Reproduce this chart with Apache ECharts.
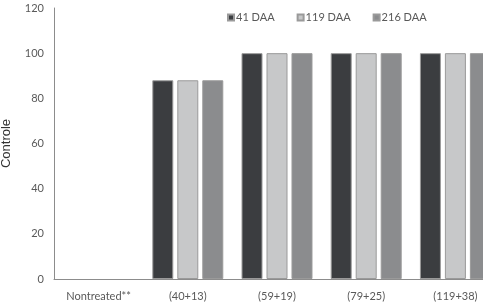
<!DOCTYPE html>
<html>
<head>
<meta charset="utf-8">
<script src="https://cdn.jsdelivr.net/npm/echarts@6/dist/echarts.min.js"></script>
<style>
  html, body { margin: 0; padding: 0; background: #fff; }
  #chart { width: 483px; height: 303px; }
</style>
</head>
<body>
<div id="chart"></div>
<script>
var categories = ['Nontreated**', '(40+13)', '(59+19)', '(79+25)', '(119+38)']
var seriesNames = ['41 DAA', '119 DAA', '216 DAA']
var daa41 = [0, 88, 100, 100, 100]
var daa119 = [0, 88, 100, 100, 100]
var daa216 = [0, 88, 100, 100, 100]
var colors = ['#3b3d40', '#c7c8c9', '#8b8c8e']

var chart = echarts.init(document.getElementById('chart'))

function bar(name, data, color) {
  return {
    name: name,
    type: 'bar',
    // zero bars get no outline so nothing shows on the axis
    data: data.map(function (v) {
      return v === 0 ? { value: v, itemStyle: { borderWidth: 0 } } : v
    }),
    barWidth: 21,
    barGap: '19%',
    itemStyle: {
      color: color,
      borderColor: '#9a9a9a',
      borderWidth: 1
    }
  }
}

chart.setOption({
  animation: false,
  textStyle: { fontFamily: 'Lato, "Open Sans", sans-serif' },
  legend: {
    data: seriesNames,
    left: 222,
    top: 7,
    icon: 'rect',
    itemWidth: 6,
    itemHeight: 6,
    itemGap: 22,
    textStyle: { fontSize: 11, color: '#595959', padding: [0, 0, 0, -3] }
  },
  grid: {
    left: 54,
    right: -17,
    top: 8,
    bottom: 24,
    outerBoundsMode: 'none'
  },
  xAxis: {
    type: 'category',
    data: categories,
    axisTick: { show: false },
    axisLine: { lineStyle: { color: '#8c8c8c' } },
    axisLabel: { color: '#595959', fontSize: 11, margin: 12, interval: 0 }
  },
  yAxis: {
    type: 'value',
    min: 0,
    max: 120,
    interval: 20,
    name: 'Controle',
    nameLocation: 'middle',
    nameGap: 41,
    nameTextStyle: { fontFamily: '"Liberation Sans", Arial, sans-serif', fontSize: 13, color: '#333' },
    axisLine: { show: true, lineStyle: { color: '#8c8c8c' } },
    axisTick: { show: false },
    splitLine: { show: false },
    axisLabel: { color: '#595959', fontSize: 11, margin: 10 }
  },
  series: [
    bar(seriesNames[0], daa41, colors[0]),
    bar(seriesNames[1], daa119, colors[1]),
    bar(seriesNames[2], daa216, colors[2])
  ]
})
</script>
</body>
</html>
